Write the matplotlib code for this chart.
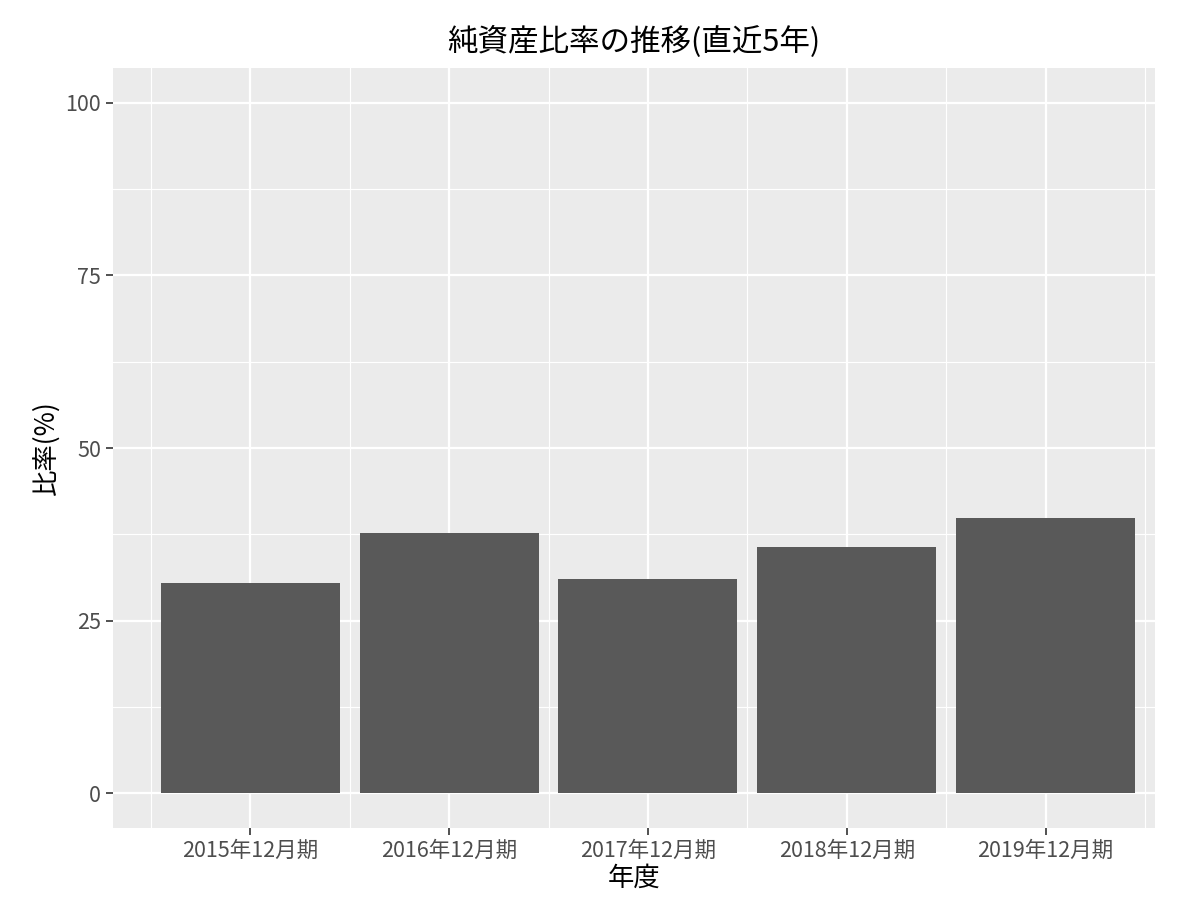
import matplotlib
matplotlib.use("Agg")
import matplotlib.pyplot as plt
import numpy as np

plt.rcParams['font.family'] = ['Noto Sans CJK JP', 'DejaVu Sans']

categories = ["2015年12月期", "2016年12月期", "2017年12月期", "2018年12月期", "2019年12月期"]
values = [30.4, 37.7, 31.0, 35.7, 39.9]
yticks = [0, 25, 50, 75, 100]

fig = plt.figure(figsize=(12, 9.21), dpi=100)
ax = fig.add_axes([0.0942, 0.101, 0.8683, 0.825])
ax.set_facecolor('#EBEBEB')
x = np.arange(len(categories))
for m in np.arange(-0.5, len(categories), 1.0):
    ax.axvline(m, color='white', lw=0.8, zorder=0)
for m in [12.5, 37.5, 62.5, 87.5]:
    ax.axhline(m, color='white', lw=0.8, zorder=0)
for t in yticks:
    ax.axhline(t, color='white', lw=1.6, zorder=0)
for xi in x:
    ax.axvline(xi, color='white', lw=1.6, zorder=0)
ax.bar(x, values, width=0.9, color='#595959', zorder=2)
ax.set_xlim(-0.69, len(categories) - 0.45)
ax.set_ylim(-5, 105)
ax.set_xticks(x)
ax.set_xticklabels(categories)
ax.set_yticks(yticks)
for s in ax.spines.values():
    s.set_visible(False)
ax.tick_params(axis='both', colors='#333333', labelsize=15.5, length=5, width=1.2, labelcolor='#4D4D4D')
ax.set_xlabel("年度", fontsize=19, labelpad=2)
ax.set_ylabel("比率(%)", fontsize=19)
ax.set_title("純資産比率の推移(直近5年)", fontsize=22, pad=12)
fig.savefig("out.png", dpi=100)
